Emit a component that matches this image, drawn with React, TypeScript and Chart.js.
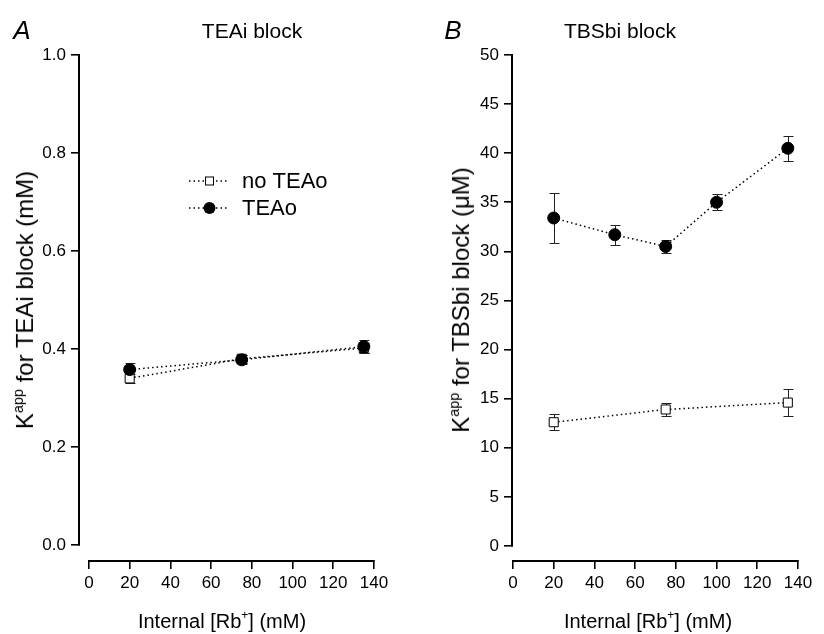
import React, { useEffect, useRef } from "react";
import { Chart, registerables } from "chart.js";

Chart.register(...registerables);

// ---------- data ----------
const rbA = [20, 75, 135];
const aNoTEAo = [0.34, 0.38, 0.402];
const aNoTEAoErr = [0.01, 0.008, 0.01];
const aTEAo = [0.358, 0.378, 0.405];
const aTEAoErr = [0.013, 0.009, 0.014];

const rbBNo = [20, 75, 135];
const bNoTEAo = [12.6, 13.9, 14.6];
const bNoTEAoErr = [0.8, 0.7, 1.35];
const rbBTEAo = [20, 50, 75, 100, 135];
const bTEAo = [33.4, 31.7, 30.5, 35.0, 40.5];
const bTEAoErr = [2.5, 1.0, 0.7, 0.8, 1.3];

const xTicks = [0, 20, 40, 60, 80, 100, 120, 140];
const aYTicks = [0, 0.2, 0.4, 0.6, 0.8, 1.0];
const bYTicks = [0, 5, 10, 15, 20, 25, 30, 35, 40, 45, 50];

const seriesLabels = ["no TEAo", "TEAo"];

const FONT = '"Liberation Sans", Arial, Helvetica, sans-serif';

const pts = (xs: number[], ys: number[]) => xs.map((x, i) => ({ x, y: ys[i] }));

const errorBars = {
  id: "errorBars",
  beforeDatasetsDraw(chart: any) {
    const ctx = chart.ctx;
    const xs = chart.scales.x;
    const ys = chart.scales.y;
    chart.data.datasets.forEach((ds: any) => {
      if (!ds.errors) return;
      ctx.save();
      ctx.strokeStyle = "#222";
      ctx.lineWidth = 1;
      ds.data.forEach((p: any, j: number) => {
        const x = Math.round(xs.getPixelForValue(p.x)) + 0.5;
        const y1 = Math.round(ys.getPixelForValue(p.y + ds.errors[j])) + 0.5;
        const y2 = Math.round(ys.getPixelForValue(p.y - ds.errors[j])) + 0.5;
        ctx.beginPath();
        ctx.moveTo(x, y1);
        ctx.lineTo(x, y2);
        ctx.moveTo(x - 5, y1);
        ctx.lineTo(x + 5, y1);
        ctx.moveTo(x - 5, y2);
        ctx.lineTo(x + 5, y2);
        ctx.stroke();
      });
      ctx.restore();
    });
  },
};

const axisLines = {
  id: "axisLines",
  afterDraw(chart: any) {
    const ctx = chart.ctx;
    const xa = chart.scales.x;
    const ya = chart.scales.y;
    const yt = chart.options.plugins.axisLines.yTicks;
    const xt = chart.options.plugins.axisLines.xTicks;
    const left = chart.chartArea.left;
    const bottom = chart.chartArea.bottom;
    ctx.save();
    ctx.strokeStyle = "#000";
    ctx.lineWidth = 2;
    ctx.beginPath();
    ctx.moveTo(left - 1, ya.getPixelForValue(yt[yt.length - 1]) - 0.5);
    ctx.lineTo(left - 1, ya.getPixelForValue(yt[0]) + 0.5);
    ctx.moveTo(xa.getPixelForValue(xt[0]) - 0.5, bottom + 1);
    ctx.lineTo(xa.getPixelForValue(xt[xt.length - 1]) + 0.5, bottom + 1);
    ctx.stroke();
    ctx.restore();
  },
};

const customLegend = {
  id: "customLegend",
  afterDraw(chart: any) {
    const opt = chart.options.plugins.customLegend;
    if (!opt || !opt.show) return;
    const ctx = chart.ctx;
    const rows = [
      { y: 181, label: chart.data.datasets[0].label, style: "rect" },
      { y: 208, label: chart.data.datasets[1].label, style: "circle" },
    ];
    ctx.save();
    rows.forEach((r) => {
      ctx.strokeStyle = "#000";
      ctx.lineWidth = 1.5;
      ctx.setLineDash([1.5, 3]);
      ctx.beginPath();
      ctx.moveTo(189, r.y);
      ctx.lineTo(228, r.y);
      ctx.stroke();
      ctx.setLineDash([]);
      ctx.lineWidth = 1;
      if (r.style === "rect") {
        ctx.fillStyle = "#fff";
        ctx.fillRect(205, r.y - 4.5, 9, 9);
        ctx.strokeRect(205.5, r.y - 4, 8, 8);
      } else {
        ctx.fillStyle = "#000";
        ctx.beginPath();
        ctx.arc(209.5, r.y, 6, 0, Math.PI * 2);
        ctx.fill();
      }
      ctx.fillStyle = "#000";
      ctx.font = `22px ${FONT}`;
      ctx.textAlign = "left";
      ctx.textBaseline = "middle";
      ctx.fillText(r.label, 242, r.y + 1);
    });
    ctx.restore();
  },
};

function makeDataset(label: string, data: any[], errors: number[], filled: boolean, order: number) {
  return {
    label,
    data,
    errors,
    order,
    showLine: true,
    borderColor: "#000",
    borderWidth: 1.5,
    borderDash: [1.5, 3],
    tension: 0,
    fill: false,
    pointStyle: filled ? "circle" : "rect",
    pointRadius: filled ? 6 : 6.4,
    pointBackgroundColor: filled ? "#000" : "#fff",
    pointBorderColor: "#000",
    pointBorderWidth: 1,
    clip: false,
  };
}

interface PanelSpec {
  width: number;
  height: number;
  leftArea: number;
  rightPad: number;
  xMin: number;
  yMin: number;
  yMax: number;
  yTicks: number[];
  yFmt: (v: number) => string;
  datasets: any[];
  legend: boolean;
}

function Panel({ spec, left }: { spec: PanelSpec; left: number }) {
  const ref = useRef<HTMLCanvasElement | null>(null);
  useEffect(() => {
    if (!ref.current) return;
    const chart = new Chart(ref.current, {
      type: "line",
      data: { datasets: spec.datasets },
      plugins: [errorBars, axisLines, customLegend],
      options: {
        animation: false,
        responsive: false,
        devicePixelRatio: 1,
        events: [],
        layout: { padding: { left: 0, top: 55, right: spec.rightPad, bottom: 34 } },
        plugins: {
          legend: { display: false },
          tooltip: { enabled: false },
          title: { display: false },
          axisLines: { xTicks, yTicks: spec.yTicks },
          customLegend: { show: spec.legend },
        } as any,
        scales: {
          x: {
            type: "linear",
            min: spec.xMin,
            max: 140,
            afterBuildTicks: (s: any) => {
              s.ticks = xTicks.map((v) => ({ value: v }));
            },
            afterFit: (s: any) => {
              s.height = 40;
            },
            border: { display: false },
            grid: {
              display: true,
              drawOnChartArea: false,
              drawTicks: true,
              tickLength: 9,
              color: "#000",
              lineWidth: 1.6,
            },
            ticks: {
              color: "#000",
              padding: 4,
              maxRotation: 0,
              autoSkip: false,
              font: { family: FONT, size: 17 },
              callback: (v: any) => String(v),
            },
          },
          y: {
            type: "linear",
            min: spec.yMin,
            max: spec.yMax,
            afterBuildTicks: (s: any) => {
              s.ticks = spec.yTicks.map((v) => ({ value: v }));
            },
            afterFit: (s: any) => {
              s.width = spec.leftArea;
            },
            border: { display: false },
            grid: {
              display: true,
              drawOnChartArea: false,
              drawTicks: true,
              tickLength: 9,
              color: "#000",
              lineWidth: 1.6,
            },
            ticks: {
              color: "#000",
              padding: 5,
              autoSkip: false,
              font: { family: FONT, size: 17 },
              callback: (v: any) => spec.yFmt(Number(v)),
            },
          },
        },
      } as any,
    });
    return () => chart.destroy();
  }, [spec]);
  return (
    <canvas
      ref={ref}
      width={spec.width}
      height={spec.height}
      style={{ position: "absolute", left, top: 0, width: spec.width, height: spec.height }}
    />
  );
}

const specA: PanelSpec = {
  width: 412,
  height: 634,
  leftArea: 80,
  rightPad: 38,
  xMin: -4.4,
  yMin: -0.0306,
  yMax: 1.0,
  yTicks: aYTicks,
  yFmt: (v) => v.toFixed(1),
  datasets: [
    makeDataset(seriesLabels[0], pts(rbA, aNoTEAo), aNoTEAoErr, false, 1),
    makeDataset(seriesLabels[1], pts(rbA, aTEAo), aTEAoErr, true, 0),
  ],
  legend: true,
};

const specB: PanelSpec = {
  width: 412,
  height: 634,
  leftArea: 101,
  rightPad: 26,
  xMin: 0,
  yMin: -1.43,
  yMax: 50,
  yTicks: bYTicks,
  yFmt: (v) => String(v),
  datasets: [
    makeDataset(seriesLabels[0], pts(rbBNo, bNoTEAo), bNoTEAoErr, false, 1),
    makeDataset(seriesLabels[1], pts(rbBTEAo, bTEAo), bTEAoErr, true, 0),
  ],
  legend: false,
};

const textBase: React.CSSProperties = {
  position: "absolute",
  fontFamily: FONT,
  color: "#000",
  whiteSpace: "nowrap",
  lineHeight: 1,
};

const sup: React.CSSProperties = { fontSize: "0.6em", verticalAlign: "0.7em" };

function Label({ x, y, size, rotate, italic, children }: any) {
  return (
    <div
      style={{
        ...textBase,
        left: x,
        top: y,
        fontSize: size,
        fontStyle: italic ? "italic" : "normal",
        transform: `translate(-50%, -50%)${rotate ? " rotate(-90deg)" : ""}`,
      }}
    >
      {children}
    </div>
  );
}

export default function App() {
  return (
    <div
      style={{
        position: "absolute",
        left: 0,
        top: 0,
        width: 824,
        height: 634,
        background: "#fff",
        overflow: "hidden",
      }}
    >
      <Panel spec={specA} left={0} />
      <Panel spec={specB} left={412} />
      <Label x={22} y={30} size={26} italic>
        A
      </Label>
      <Label x={252} y={30} size={21}>
        TEAi block
      </Label>
      <Label x={453} y={30} size={26} italic>
        B
      </Label>
      <Label x={620} y={30} size={21}>
        TBSbi block
      </Label>
      <Label x={222} y={620} size={20}>
        Internal [Rb<span style={sup}>+</span>] (mM)
      </Label>
      <Label x={648} y={620} size={20}>
        Internal [Rb<span style={sup}>+</span>] (mM)
      </Label>
      <Label x={24} y={300} size={24} rotate>
        K<span style={sup}>app</span> for TEAi block (mM)
      </Label>
      <Label x={460} y={300} size={24} rotate>
        K<span style={sup}>app</span> for TBSbi block (μM)
      </Label>
    </div>
  );
}
